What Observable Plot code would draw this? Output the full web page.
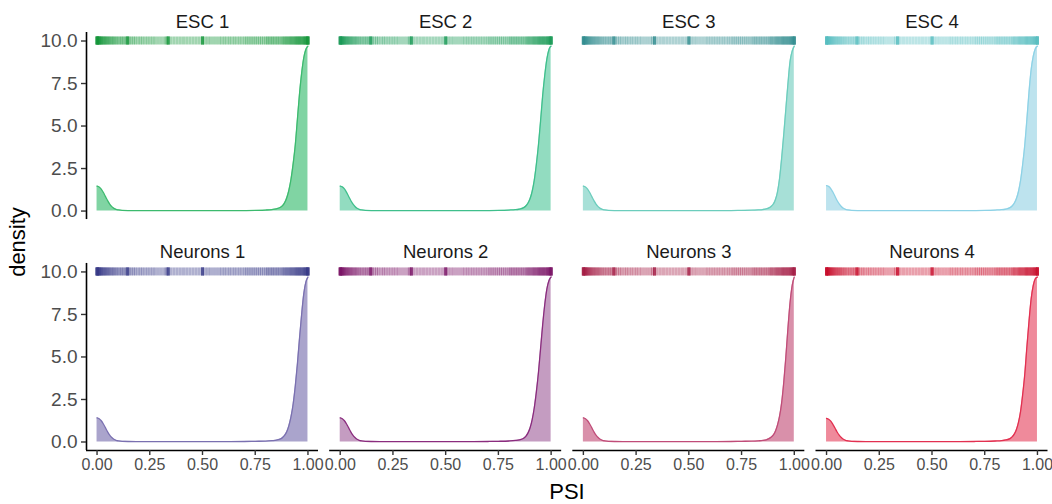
<!DOCTYPE html>
<html><head><meta charset="utf-8">
<script src="https://cdn.jsdelivr.net/npm/d3@7"></script>
<script src="https://cdn.jsdelivr.net/npm/@observablehq/plot@0.6"></script>
<style>
body{margin:0;background:#fff;font-family:"Liberation Sans",Arial,sans-serif}
#wrap{position:relative;width:1052px;height:504px;overflow:hidden}
.ttl{position:absolute;font-size:22px;color:#000;line-height:1;white-space:nowrap}
</style></head><body><div id="wrap"></div>
<script>
const groups = ["ESC", "Neurons"];
const reps = ["1", "2", "3", "4"];
const xTicks = [0, 0.25, 0.5, 0.75, 1];
const yTicks = [0, 2.5, 5, 7.5, 10];

const psiGrid = [0,.01,.02,.03,.04,.05,.06,.07,.08,.09,.10,.12,.15,.20,.30,.40,.50,.60,.70,.75,.80,.83,.85,.87,.88,.89,.90,.91,.92,.93,.94,.95,.96,.97,.98,.99,1.00];

const densESC1 = [1.47,1.42,1.29,1.09,0.85,0.61,0.41,0.26,0.16,0.10,0.07,0.04,0.03,0.025,0.02,0.02,0.02,0.02,0.03,0.04,0.06,0.09,0.13,0.22,0.32,0.5,0.8,1.25,1.9,2.8,3.9,5.4,6.9,8.1,9.0,9.5,9.7];
const densESC2 = [1.47,1.42,1.30,1.10,0.86,0.62,0.42,0.27,0.16,0.10,0.07,0.04,0.03,0.025,0.02,0.02,0.02,0.02,0.03,0.04,0.06,0.08,0.12,0.2,0.3,0.46,0.72,1.15,1.8,2.75,3.9,5.3,6.8,8.0,8.95,9.5,9.7];
const densESC3 = [1.47,1.42,1.29,1.09,0.85,0.61,0.41,0.26,0.16,0.10,0.07,0.04,0.03,0.025,0.02,0.02,0.02,0.02,0.03,0.04,0.05,0.07,0.09,0.14,0.19,0.27,0.4,0.65,1.1,1.9,3.1,4.5,6.0,7.5,8.8,9.4,9.7];
const densESC4 = [1.50,1.45,1.32,1.11,0.87,0.62,0.42,0.27,0.16,0.10,0.07,0.04,0.03,0.025,0.02,0.02,0.02,0.02,0.03,0.04,0.06,0.08,0.12,0.2,0.3,0.46,0.72,1.15,1.8,2.75,3.9,5.4,7.0,8.3,9.1,9.55,9.7];
const densNeurons1 = [1.42,1.37,1.25,1.06,0.83,0.6,0.4,0.26,0.16,0.10,0.07,0.04,0.03,0.025,0.02,0.02,0.02,0.02,0.03,0.04,0.05,0.08,0.11,0.18,0.27,0.4,0.62,0.98,1.5,2.25,3.3,4.6,6.1,7.5,8.7,9.4,9.7];
const densNeurons2 = [1.42,1.37,1.25,1.06,0.83,0.6,0.4,0.26,0.16,0.10,0.07,0.04,0.03,0.025,0.02,0.02,0.02,0.02,0.03,0.04,0.06,0.09,0.13,0.22,0.33,0.52,0.82,1.3,2.0,2.95,4.1,5.5,6.9,8.1,9.0,9.5,9.7];
const densNeurons3 = [1.42,1.37,1.25,1.06,0.83,0.6,0.4,0.26,0.16,0.10,0.07,0.04,0.03,0.025,0.02,0.02,0.02,0.02,0.03,0.04,0.05,0.07,0.09,0.14,0.2,0.28,0.4,0.62,0.98,1.5,2.3,3.5,5.0,6.7,8.2,9.2,9.7];
const densNeurons4 = [1.39,1.34,1.23,1.04,0.82,0.59,0.4,0.26,0.16,0.10,0.07,0.04,0.03,0.025,0.02,0.02,0.02,0.02,0.03,0.04,0.06,0.08,0.12,0.2,0.3,0.46,0.72,1.15,1.8,2.8,4.0,5.6,7.1,8.4,9.2,9.6,9.7];

const rugPSI = [0,0,0,0,0,0.002,0.004,0.006,0.008,0.01,0.012,0.015,0.018,0.021,0.024,0.028,0.032,0.036,0.04,0.045,0.05,0.055,0.06,0.066,0.072,0.078,0.085,0.092,0.1,0.108,0.116,0.124,0.132,0.14,0.145,0.145,0.145,0.152,0.162,0.172,0.182,0.194,0.205,0.216,0.228,0.24,0.252,0.264,0.276,0.29,0.304,0.318,0.328,0.337,0.337,0.337,0.337,0.35,0.365,0.38,0.395,0.41,0.425,0.44,0.455,0.47,0.485,0.5,0.5,0.5,0.5,0.512,0.525,0.538,0.552,0.566,0.58,0.592,0.604,0.616,0.628,0.64,0.652,0.664,0.676,0.688,0.7,0.71,0.72,0.73,0.74,0.75,0.76,0.77,0.78,0.79,0.8,0.808,0.816,0.824,0.832,0.84,0.848,0.856,0.864,0.872,0.88,0.886,0.892,0.898,0.904,0.91,0.915,0.92,0.925,0.93,0.935,0.94,0.944,0.948,0.952,0.956,0.96,0.964,0.968,0.972,0.976,0.98,0.983,0.986,0.989,0.992,0.995,0.998,1,1,1,1,1];

const fillColors = {"ESC 1":"#80d4a3","ESC 2":"#92dcc0","ESC 3":"#a7e0d7","ESC 4":"#bde3ee","Neurons 1":"#aaa4cc","Neurons 2":"#c49cc1","Neurons 3":"#d990aa","Neurons 4":"#ef8a9b"};
const lineColors = {"ESC 1":"#3cba6e","ESC 2":"#3fbf8c","ESC 3":"#6ccdbd","ESC 4":"#8dd2e6","Neurons 1":"#7a70b0","Neurons 2":"#8a2c7e","Neurons 3":"#c04c78","Neurons 4":"#e23050"};
const rugColors = {"ESC 1":"#15973a","ESC 2":"#1c9a58","ESC 3":"#348f92","ESC 4":"#57bdc0","Neurons 1":"#383a86","Neurons 2":"#7a1566","Neurons 3":"#a61f47","Neurons 4":"#c8102e"};

const densByPanel = {"ESC 1":densESC1,"ESC 2":densESC2,"ESC 3":densESC3,"ESC 4":densESC4,
  "Neurons 1":densNeurons1,"Neurons 2":densNeurons2,"Neurons 3":densNeurons3,"Neurons 4":densNeurons4};

const panels = [];
for (const g of groups) for (const r of reps) panels.push({group:g, rep:r, label:g + " " + r});
const dens = panels.flatMap(p => densByPanel[p.label].map((d,i) => ({...p, psi: psiGrid[i], d, fill: fillColors[p.label], line: lineColors[p.label]})));
const rug = panels.flatMap(p => rugPSI.map(v => ({...p, psi: v, col: rugColors[p.label]})));

const chart = Plot.plot({
  width: 1052, height: 504,
  marginLeft: 86, marginRight: 4.5, marginTop: 32, marginBottom: 54,
  style: {fontFamily: "'Liberation Sans', Arial, sans-serif", background: "#fff", overflow: "visible"},
  x: {domain: [-0.05, 1.05], axis: null},
  y: {domain: [-0.5, 10.5], axis: null},
  fx: {domain: reps, paddingInner: 0.0459, paddingOuter: 0, round: false, axis: null},
  fy: {domain: groups, paddingInner: 0.19, paddingOuter: 0, round: false, axis: null},
  color: {type: "identity"},
  marks: [
    Plot.areaY(dens, {x: "psi", y: "d", fx: "rep", fy: "group", fill: "fill", curve: "monotone-x"}),
    Plot.lineY(dens, {x: "psi", y: "d", fx: "rep", fy: "group", stroke: "line", strokeWidth: 1.3, curve: "monotone-x"}),
    Plot.ruleX(rug, {x: "psi", y1: () => 10, y2: () => 10, insetTop: -4, insetBottom: -4, fx: "rep", fy: "group", stroke: "col", strokeWidth: 3, strokeOpacity: 0.4}),
    Plot.text(panels, {fx: "rep", fy: "group", text: "label", frameAnchor: "top", lineAnchor: "bottom", dy: -5, fontSize: 18.5, fill: "#1a1a1a"}),
    Plot.ruleX([-0.05], {facetAnchor: "left", stroke: "#000", strokeWidth: 1.6}),
    Plot.ruleY([-0.5], {facetAnchor: "bottom", stroke: "#000", strokeWidth: 1.6}),
    Plot.axisY({ticks: yTicks, tickFormat: d3.format(".1f"), tickSize: 5, tickPadding: 4, fontSize: 19, stroke: "#333", fill: "#4d4d4d", strokeWidth: 1.4, facetAnchor: "left", label: null}),
    Plot.axisX({ticks: xTicks, tickFormat: d3.format(".2f"), tickSize: 5, tickPadding: 3, fontSize: 16, stroke: "#333", fill: "#4d4d4d", strokeWidth: 1.4, facetAnchor: "bottom", label: null})
  ]
});
const wrap = document.getElementById("wrap");
wrap.appendChild(chart);
const psi = document.createElement("div");
psi.className = "ttl"; psi.textContent = "PSI";
psi.style.left = "567px"; psi.style.top = "492px"; psi.style.transform = "translate(-50%,-50%)";
wrap.appendChild(psi);
const dl = document.createElement("div");
dl.className = "ttl"; dl.textContent = "density";
dl.style.left = "18px"; dl.style.top = "242px"; dl.style.transform = "translate(-50%,-50%) rotate(-90deg)";
wrap.appendChild(dl);
</script></body></html>
